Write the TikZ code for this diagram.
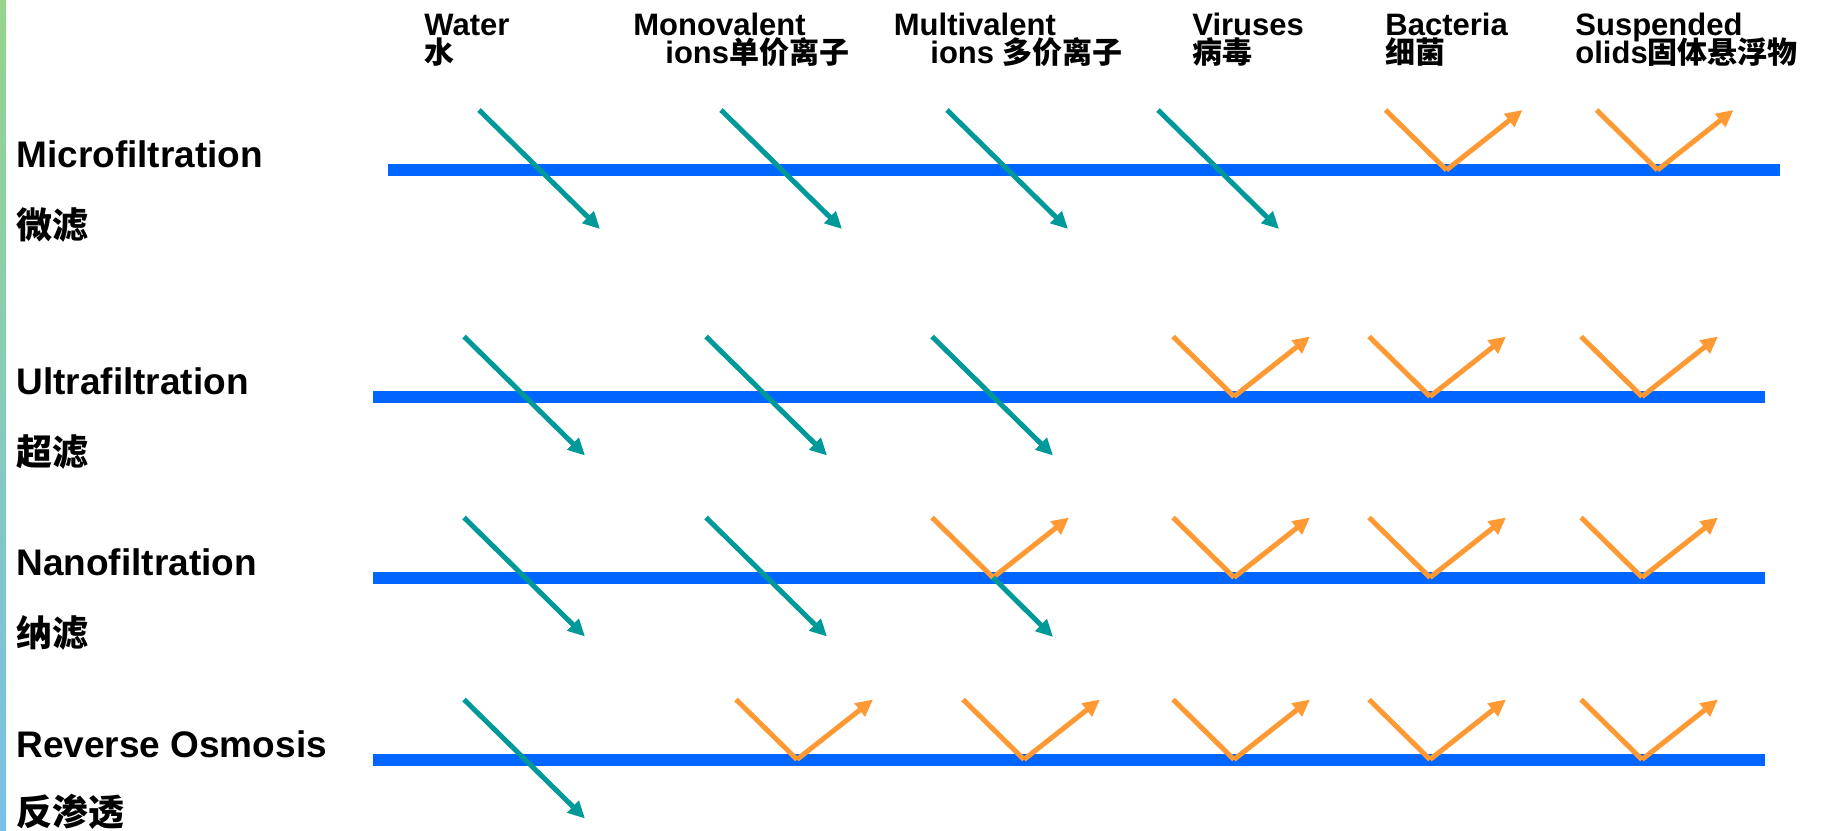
\documentclass[tikz,border=0pt]{standalone}
\usepackage{fontspec}
\setmainfont{Liberation Sans}
\newfontfamily\cjk{Noto Sans CJK SC}
\usetikzlibrary{arrows.meta}
\definecolor{memblue}{HTML}{0066FF}
\definecolor{passteal}{HTML}{009999}
\definecolor{rejorange}{HTML}{FF9933}
\definecolor{stripgreen}{RGB}{150,212,140}
\definecolor{stripblue}{RGB}{120,192,232}
\tikzset{
  hdr/.style={anchor=base west, inner sep=0pt, font=\bfseries\fontsize{15.5}{16}\selectfont},
  hdrcjk/.style={font=\bfseries\fontsize{15}{16}\selectfont\cjk},
  lbl/.style={anchor=base west, inner sep=0pt, font=\bfseries\fontsize{18.5}{19}\selectfont},
  lblcjk/.style={anchor=base west, inner sep=0pt, font=\bfseries\fontsize{18}{19}\selectfont\cjk},
  membrane/.style={draw=memblue, line width=6pt},
  passline/.style={draw=passteal, line width=2.5pt, -{Triangle[length=8.5pt,width=8pt]}},
  rejline/.style={draw=rejorange, line width=2.5pt},
  rejarrow/.style={draw=rejorange, line width=2.5pt, -{Triangle[length=8.5pt,width=8pt]}}
}
\newcommand\hc[1]{{\fontsize{15}{16}\selectfont\cjk #1}}
% pass arrow: name, crossing x, line y
\newcommand\mypass[3]{%
  \coordinate (#1-s) at ({#2-61},{#3-60});
  \coordinate (#1-e) at ({#2+60},{#3+59});
  \draw[passline] (#1-s) -- (#1-e);}
% rejected arrow: name, bottom x, line y
\newcommand\myrej[3]{%
  \coordinate (#1-s) at ({#2-61},{#3-60});
  \coordinate (#1-b) at (#2,#3);
  \coordinate (#1-e) at ({#2+76},{#3-60});
  \draw[rejline] (#1-s) -- (#1-b);
  \draw[rejarrow] (#1-b) -- (#1-e);}
\begin{document}
\begin{tikzpicture}[x=0.5pt,y=-0.5pt]
\useasboundingbox (0,0) rectangle (1829,830);
% left strip
\shade[top color=stripgreen, middle color=white!85!stripblue, bottom color=stripblue] (0,0) rectangle (6,830);

% headers
\node[hdr] (hw1) at (424,35) {Water};
\node[hdr] (hw2) at (424,63) {\hc{水}};
\node[hdr] (hm1) at (633,35) {Monovalent};
\node[hdr] (hm2) at (665,63) {ions\hc{单价离子}};
\node[hdr] (hv1) at (893.5,35) {Multivalent};
\node[hdr] (hv2) at (930,63) {ions \hc{多价离子}};
\node[hdr] (hr1) at (1192,35) {Viruses};
\node[hdr] (hr2) at (1192,63) {\hc{病毒}};
\node[hdr] (hb1) at (1385,35) {Bacteria};
\node[hdr] (hb2) at (1385,63) {\hc{细菌}};
\node[hdr] (hs1) at (1575,35) {Suspended};
\node[hdr] (hs2) at (1575,63) {olids\hc{固体悬浮物}};

% left labels
\node[lbl] (l1) at (16,167) {Microfiltration};
\node[lblcjk] (l1c) at (16,238.5) {微滤};
\node[lbl] (l2) at (16,394.5) {Ultrafiltration};
\node[lblcjk] (l2c) at (16,465) {超滤};
\node[lbl] (l3) at (16,575.5) {Nanofiltration};
\node[lblcjk] (l3c) at (16,646) {纳滤};
\node[lbl] (l4) at (16,757) {Reverse Osmosis};
\node[lblcjk] (l4c) at (16,825) {反渗透};

% membranes
\coordinate (m1-w) at (388,170);   \coordinate (m1-e) at (1780,170);
\coordinate (m2-w) at (373,396.5); \coordinate (m2-e) at (1765,396.5);
\coordinate (m3-w) at (373,577.5); \coordinate (m3-e) at (1765,577.5);
\coordinate (m4-w) at (373,759.5); \coordinate (m4-e) at (1765,759.5);
\draw[membrane] (m1-w) -- (m1-e);
\draw[membrane] (m2-w) -- (m2-e);
\draw[membrane] (m3-w) -- (m3-e);
\draw[membrane] (m4-w) -- (m4-e);

% row 1: microfiltration
\mypass{p11}{540}{170}
\mypass{p12}{782}{170}
\mypass{p13}{1008}{170}
\mypass{p14}{1219}{170}
\myrej{r15}{1446.5}{170}
\myrej{r16}{1657.5}{170}

% row 2: ultrafiltration
\mypass{p21}{525}{396.5}
\mypass{p22}{767}{396.5}
\mypass{p23}{993}{396.5}
\myrej{r24}{1234}{396.5}
\myrej{r25}{1430}{396.5}
\myrej{r26}{1642}{396.5}

% row 3: nanofiltration
\mypass{p31}{525}{577.5}
\mypass{p32}{767}{577.5}
\myrej{r33}{993}{577.5}
\coordinate (p33-e) at (1053,637);
\draw[passline] (r33-b) -- (p33-e);
\myrej{r34}{1234}{577.5}
\myrej{r35}{1430}{577.5}
\myrej{r36}{1642}{577.5}

% row 4: reverse osmosis
\mypass{p41}{525}{759.5}
\myrej{r42}{797}{759.5}
\myrej{r43}{1024}{759.5}
\myrej{r44}{1234}{759.5}
\myrej{r45}{1430}{759.5}
\myrej{r46}{1642}{759.5}
\end{tikzpicture}
\end{document}
